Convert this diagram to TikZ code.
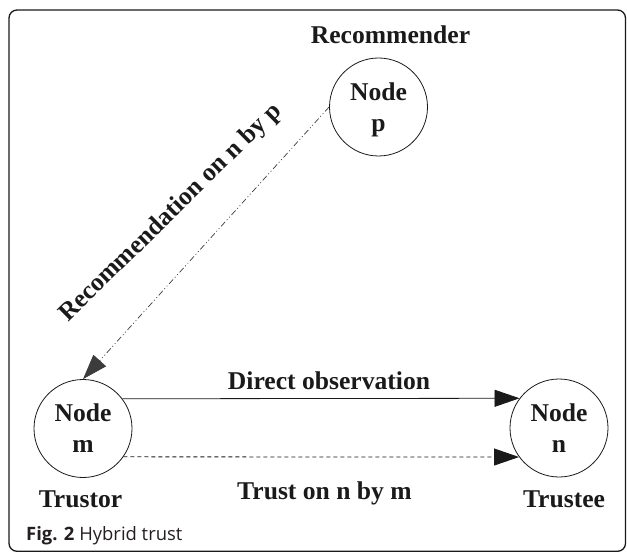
\documentclass[tikz,border=0pt]{standalone}
\usepackage{fontspec}
\setmainfont{Liberation Serif}
\newfontfamily\capfont{Open Sans}
\usetikzlibrary{arrows.meta}
\definecolor{ink}{HTML}{1A1A1A}
\definecolor{capink}{HTML}{231F20}
\tikzset{
  lbl/.style={font=\fontsize{25.7}{31}\selectfont\bfseries, text=ink, inner sep=0pt, anchor=base},
  nodecirc/.style={circle, draw=ink, line width=0.8bp, minimum size=98bp, inner sep=0pt,
    align=center, font=\fontsize{25.7}{31}\selectfont\bfseries, text=ink},
  arr/.style={-{Triangle[length=25bp,width=17bp]}, line width=0.8bp, draw=ink},
  dasharr/.style={arr, dash pattern=on 4bp off 3bp},
  recarr/.style={-{Triangle[length=25bp,width=17bp]}, line width=0.7bp, draw=ink!85,
    dash pattern=on 6bp off 2.5bp on 1bp off 2.5bp on 1bp off 2.5bp}
}
\begin{document}
\begin{tikzpicture}[x=1bp,y=-1bp]
\useasboundingbox (0,0) rectangle (627,552);
\draw[line width=1.3bp, draw=ink, rounded corners=8bp] (9,10) rectangle (625.5,551.3);

\node[nodecirc] (p) at (378.5,107) {Node\\\raisebox{0pt}[\height][0pt]{p}};
\node[nodecirc] (m) at (83,428.5) {Node\\m};
\node[nodecirc] (n) at (559,428) {Node\\n};

\node[lbl] (rec) at (390.5,44) {Recommender};
\node[lbl] (tor) at (80.5,507) {Trustor};
\node[lbl] (tee) at (564,507) {Trustee};
\node[lbl] (dobs) at (329,389) {Direct observation};
\node[lbl] (tonm) at (324.5,499) {Trust on n by m};
\node[lbl, anchor=base west, rotate=44.5] (recon) at (68,323) {Recommendation on n by p};

\draw[arr] (m.37) -- (n.143);
\draw[dasharr] (m.-35.6) -- (n.-144);
\draw[recarr] (p.180) -- (m.90);

\node[anchor=base west, inner sep=0pt, font=\capfont\fontsize{18.5}{22}\selectfont, text=capink] (cap) at (26,540) {\textbf{Fig. 2} Hybrid trust};
\end{tikzpicture}
\end{document}
